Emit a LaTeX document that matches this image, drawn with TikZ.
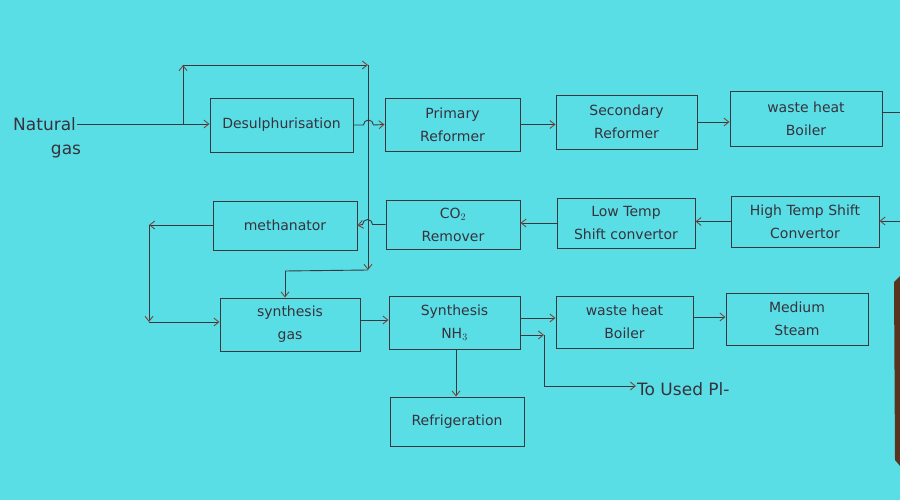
\documentclass[tikz,border=0pt]{standalone}
\usepackage{fontspec}
\setmainfont{DejaVu Sans}
\usetikzlibrary{arrows.meta,calc}
\definecolor{bg}{RGB}{90,222,230}
\definecolor{ink}{RGB}{58,56,62}
\definecolor{tipc}{RGB}{120,70,60}
\definecolor{txt}{RGB}{55,50,60}
\definecolor{strip}{RGB}{88,52,32}
\begin{document}
\begin{tikzpicture}[x=1pt,y=-1pt,
  box/.style 2 args={draw=ink, line width=0.9pt, inner sep=0pt,
    minimum width=#1pt, minimum height=#2pt, align=center, text=txt,
    font=\fontsize{14}{23}\selectfont},
  lbl/.style={text=txt, inner sep=1pt, font=\fontsize{17}{22}\selectfont},
  wire/.style={draw=ink, line width=0.9pt},
  arr/.style={wire, -{Straight Barb[length=5pt,width=8pt,color=tipc]}}]
\useasboundingbox (0,0) rectangle (900,500);
\fill[bg] (0,0) rectangle (900,500);
\fill[strip] (894,282) -- (900,276) -- (900,466) -- (895,460) -- cycle;

% row 1
\node[box={143}{54}] (des) at (281.5,125) {Desulphurisation};
\node[box={135}{53}] (prim) at (452.5,124.5) {Primary\\Reformer};
\node[box={141}{54}] (sec) at (626.5,122) {Secondary\\Reformer};
\node[box={152}{55}] (whb1) at (806,118.5) {waste heat\\Boiler};
% row 2
\node[box={148}{51}] (hts) at (805,221.5) {High Temp Shift\\Convertor};
\node[box={138}{50}] (lts) at (626,223) {Low Temp\\Shift convertor};
\node[box={134}{49}] (co2) at (453,224.5) {CO$_2$\\Remover};
\node[box={144}{49}] (meth) at (285,225.5) {methanator};
% row 3
\node[box={140}{53}] (syn) at (290,324.5) {synthesis\\gas};
\node[box={131}{53}] (nh3) at (454.5,322.5) {Synthesis\\NH$_3$};
\node[box={137}{52}] (whb2) at (624.5,322) {waste heat\\Boiler};
\node[box={142}{52}] (ms) at (797,319) {Medium\\Steam};
\node[box={134}{49}] (refr) at (457,421.5) {Refrigeration};

% free labels
\node[lbl, anchor=west] (ng) at (12,124) {Natural};
\node[lbl] (gas) at (66,152) {gas};
\node[lbl, anchor=west] (tu) at (636,389) {To Used Pl-};

% coordinates
\coordinate (sp) at (183,124);
\coordinate (c1) at (183,65);
\coordinate (c2) at (368,65);
\coordinate (c3) at (368,270);
\coordinate (c4) at (285,271);
\coordinate (inR) at (900,221);
\coordinate (outR) at (900,112);
\coordinate (c5) at (149,225);
\coordinate (c6) at (149,322);
\coordinate (c7) at (544,335);
\coordinate (c8) at (544,386);

% natural gas feed and bypass loop
\draw[arr] (ng.east) -- (des.west |- ng.east);
\draw[arr] (sp) -- (c1);
\draw[arr] (c1) -- (c2);
\draw[arr] (c2) -- (c3);
\draw[wire] (c3) -- (c4);
\draw[arr] (c4) -- (c4 |- syn.north);

% row 1 flow
\draw[arr] (des.east) -- ++(10,0) arc[start angle=180,end angle=360,radius=5] -- (prim.west);
\draw[arr] (prim.east) -- (prim.east -| sec.west);
\draw[arr] (sec.east) -- (sec.east -| whb1.west);
\draw[wire] (outR -| whb1.east) -- (outR);

% row 2 flow
\draw[arr] (inR) -- (inR -| hts.east);
\draw[arr] (hts.west) -- (hts.west -| lts.east);
\draw[arr] (lts.west) -- (lts.west -| co2.east);
\draw[arr] (co2.west) -- ++(-13,0) arc[start angle=0,end angle=-180,radius=5] -- (meth.east);
\draw[arr] (meth.west |- c5) -- (c5);
\draw[arr] (c5) -- (c6);
\draw[arr] (c6) -- (c6 -| syn.west);

% row 3 flow
\draw[arr] (syn.east |- 0,320) -- (nh3.west |- 0,320);
\draw[arr] (nh3.east |- 0,318) -- (whb2.west |- 0,318);
\draw[arr] (whb2.east |- 0,317) -- (ms.west |- 0,317);
\draw[arr] (c7 -| nh3.east) -- (c7);
\draw[wire] (c7) -- (c8);
\draw[arr] (c8) -- (c8 -| tu.west);
\draw[arr] (nh3.south -| 456,0) -- (refr.north -| 456,0);
\end{tikzpicture}
\end{document}
